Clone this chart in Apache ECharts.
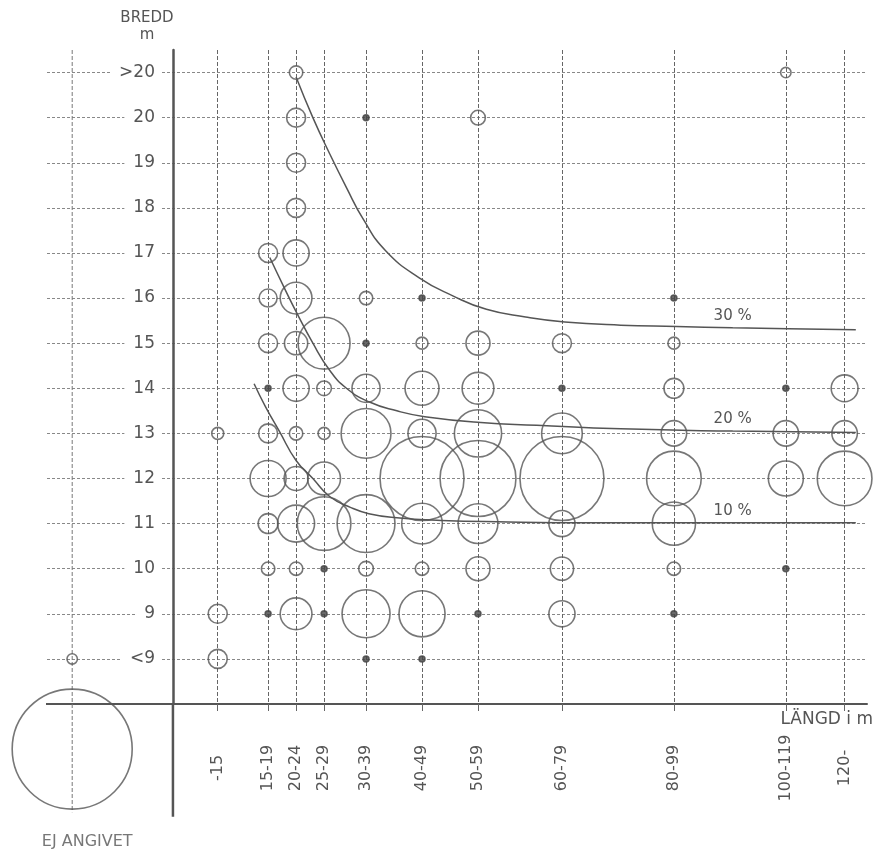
<!DOCTYPE html>
<html><head><meta charset="utf-8">
<script src="https://cdn.jsdelivr.net/npm/echarts@6/dist/echarts.min.js"></script>
<style>html,body{margin:0;padding:0;background:#fff}#c{width:889px;height:854px}</style>
</head><body><div id="c"></div>
<script>
// ---- data ----
const lengthClasses = ['-15','15-19','20-24','25-29','30-39','40-49','50-59','60-79','80-99','100-119','120-'];
const lengthMid = [8, 17, 22, 27, 34.5, 44.5, 54.5, 69.5, 89.5, 109.5, 120];
const widthClasses = ['<9','9','10','11','12','13','14','15','16','17','18','19','20','>20'];
const widthValue = [8, 9, 10, 11, 12, 13, 14, 15, 16, 17, 18, 19, 20, 21];
// counts per width class (<9 ... >20) for each length class
const n_m15    = [10,10, 0, 0,  0, 4, 0, 0, 0, 0, 0, 0, 0, 0];
const n_15_19  = [ 0, 1, 5,11, 36,10, 1,10, 9,10, 0, 0, 0, 0];
const n_20_24  = [ 0,28, 5,38, 16, 5,19,15,28,19,10,10,10, 5];
const n_25_29  = [ 0, 1, 1,80, 30, 4, 6,75, 0, 0, 0, 0, 0, 0];
const n_30_39  = [ 1,64, 6,93,  0,69,22, 1, 5, 0, 0, 0, 1, 0];
const n_40_49  = [ 1,59, 5,46,196,22,32, 4, 1, 0, 0, 0, 0, 0];
const n_50_59  = [ 0, 1,16,44,160,62,28,16, 0, 0, 0, 0, 6, 0];
const n_60_79  = [ 0,19,15,19,196,46, 1,10, 0, 0, 0, 0, 0, 0];
const n_80_99  = [ 0, 1, 5,52, 83,18,11, 4, 1, 0, 0, 0, 0, 0];
const n_100_119= [ 0, 0, 1, 0, 34,18, 1, 0, 0, 0, 0, 0, 0, 3];
const n_120    = [ 0, 0, 0, 0, 83,18,20, 0, 0, 0, 0, 0, 0, 0];
const counts = [n_m15,n_15_19,n_20_24,n_25_29,n_30_39,n_40_49,n_50_59,n_60_79,n_80_99,n_100_119,n_120];
// "EJ ANGIVET" (length not given)
const ejLength = -18;
const ejCounts = [3,0,0,0,0,0,0,0,0,0,0,0,0,0];
const ejNoWidthRow = 6;
const ejNoWidthCount = 400;
// percentage curves [length m, width]
const curve30 = [[22,20.9],[25,20.0],[28,19.2],[31,18.45],[34,17.75],[38,17.05],[44,16.45],[50,16.05],[56,15.75],[63,15.58],[70,15.47],[80,15.4],[90,15.37],[100,15.34],[110,15.32],[122,15.3]];
const curve20 = [[17.3,16.9],[20,16.2],[22,15.7],[25,15.0],[28,14.4],[31,14.0],[35,13.7],[40,13.5],[45,13.37],[55,13.24],[65,13.18],[80,13.1],[100,13.05],[122,13.02]];
const curve10 = [[14.5,14.1],[16.5,13.6],[19,13.05],[22,12.4],[25,12.0],[28,11.6],[31.7,11.36],[35,11.22],[40,11.13],[48,11.07],[58,11.04],[76,11.02],[100,11.02],[122,11.02]];
const curveNames = ['30 %','20 %','10 %'];
const curveLabelAt = 100;

// ---- chart ----
const FONT = 'DejaVu Sans';
const INK = '#555';
const chart = echarts.init(document.getElementById('c'));
const circles = [], dots = [];
counts.forEach((col, i) => col.forEach((n, j) => {
  if (!n) return;
  (n === 1 ? dots : circles).push([lengthMid[i], widthValue[j], n]);
}));
ejCounts.forEach((n, j) => { if (n) circles.push([ejLength, widthValue[j], n]); });
circles.push({ value: [ejLength, ejNoWidthRow, ejNoWidthCount],
  label: { show: true, formatter: 'EJ ANGIVET', position: 'bottom', distance: 24, offset: [15, 0],
    color: INK, fontFamily: FONT, fontSize: 16 } });
const sz = d => 6 * Math.sqrt(d[2]);

function curveSeries(curve, name) {
  return {
    type: 'line', smooth: true, symbol: 'none', clip: false, z: 4,
    lineStyle: { color: '#555', width: 1.5 },
    data: curve.map(p => p[0] === curveLabelAt ? {
      value: p, symbol: 'circle', symbolSize: 1, itemStyle: { color: 'transparent' },
      label: { show: true, formatter: name, position: 'top', distance: 4, color: INK, fontFamily: FONT, fontSize: 15 }
    } : p)
  };
}

chart.setOption({
  backgroundColor: '#fff',
  animation: false,
  title: { text: 'BREDD\nm', left: 142, top: 5, textAlign: 'center',
    textStyle: { color: INK, fontFamily: FONT, fontSize: 15, fontWeight: 'normal', lineHeight: 17 } },
  grid: { left: 47, right: 22, top: 50, bottom: 150, outerBoundsMode: 'none' },
  xAxis: {
    type: 'value', min: -22.5, max: 124,
    axisLine: { show: true, onZero: false, lineStyle: { color: '#555', width: 2 } },
    axisTick: { show: true, customValues: lengthMid, length: 7, lineStyle: { color: '#666' } },
    axisLabel: { customValues: lengthMid, rotate: 90, align: 'center', verticalAlign: 'middle', margin: 64,
      formatter: v => { const k = lengthMid.indexOf(v); return k < 0 ? '' : lengthClasses[k]; },
      color: INK, fontFamily: FONT, fontSize: 16 },
    splitLine: { show: true, lineStyle: { color: '#666', type: [4, 2] } },
    name: 'LÄNGD i m', nameLocation: 'end', nameGap: 6, nameMoveOverlap: false,
    nameTextStyle: { align: 'right', verticalAlign: 'top', padding: [7, 0, 0, 0], color: INK, fontFamily: FONT, fontSize: 17 }
  },
  yAxis: {
    type: 'value', min: 7, max: 21.5, interval: 1, offset: -126,
    axisLine: { show: true, onZero: false, lineStyle: { color: '#555', width: 2.5 } },
    axisTick: { show: false },
    axisLabel: { margin: 11, backgroundColor: '#fff', padding: [2, 7, 2, 9], showMinLabel: false, showMaxLabel: false,
      formatter: v => { const k = widthValue.indexOf(v); return k < 0 ? '' : widthClasses[k]; },
      color: INK, fontFamily: FONT, fontSize: 17 },
    splitLine: { show: true, showMinLine: false, showMaxLine: false, lineStyle: { color: '#888', type: [3, 2] } }
  },
  series: [
    { type: 'scatter', data: circles, symbolSize: sz, clip: false, z: 3,
      itemStyle: { color: 'rgba(0,0,0,0)', borderColor: '#555', borderWidth: 1.6 } },
    { type: 'scatter', data: dots, symbolSize: sz, clip: false, z: 3,
      itemStyle: { color: '#444', borderColor: '#444', borderWidth: 1.5 } },
    curveSeries(curve30, curveNames[0]),
    curveSeries(curve20, curveNames[1]),
    curveSeries(curve10, curveNames[2]),
    // axis / column extensions beyond the plot area
    { type: 'line', symbol: 'none', clip: false, silent: true, data: [[0, 7], [0, 4.5]],
      lineStyle: { color: '#555', width: 2.5 } },
    { type: 'line', symbol: 'none', clip: false, silent: true, data: [[-29, 7], [-22.5, 7]],
      lineStyle: { color: '#555', width: 2 } },
    { type: 'line', symbol: 'none', clip: false, silent: true, data: [[ejLength, 21.5], [ejLength, 4.6]],
      lineStyle: { color: '#777', width: 1, type: [4, 2] } }
  ]
});
</script></body></html>
